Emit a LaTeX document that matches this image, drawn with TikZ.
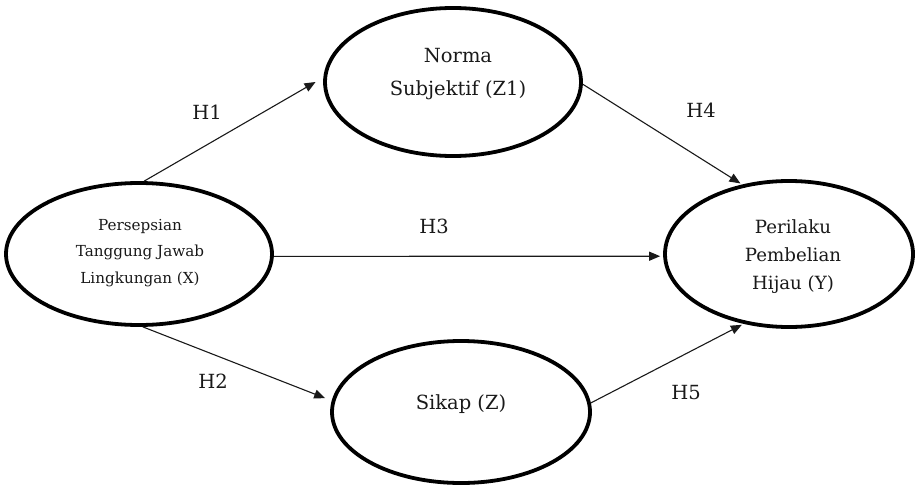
\documentclass[tikz,border=0pt]{standalone}
\usepackage{fontspec}
\setmainfont{DejaVu Serif}
\usetikzlibrary{arrows.meta,shapes.geometric}
\begin{document}
\begin{tikzpicture}[x=1pt,y=-1pt,
  latent/.style={ellipse,draw,line width=3.8pt,inner sep=0pt},
  ltext/.style={align=center,inner sep=0pt,text=black!90},
  path/.style={-{Triangle[length=11pt,width=9pt]},line width=1.1pt,draw=black!90},
  hlabel/.style={font=\fontsize{19.5}{22}\selectfont,text=black!90}]
\useasboundingbox (0,0) rectangle (915,487);
\node[latent,minimum width=266pt,minimum height=142pt] (X) at (139,254) {};
\node[latent,minimum width=256pt,minimum height=148pt] (Z1) at (453,82) {};
\node[latent,minimum width=258pt,minimum height=142pt] (Z) at (461,412) {};
\node[latent,minimum width=248pt,minimum height=146pt] (Y) at (789,254) {};
\node[ltext,font=\fontsize{15.2}{26.5}\selectfont] (Xt) at (140,253) {Persepsian\\Tanggung Jawab\\Lingkungan (X)};
\node[ltext,font=\fontsize{19.5}{33}\selectfont] (Z1t) at (458,74) {Norma\\Subjektif (Z1)};
\node[ltext,font=\fontsize{19.5}{28}\selectfont] (Zt) at (461,404) {Sikap (Z)};
\node[ltext,font=\fontsize{18.2}{28}\selectfont] (Yt) at (793,257) {Perilaku\\Pembelian\\Hijau (Y)};
\draw[path,shorten >=9pt] (X.86) -- (Z1.178);
\draw[path,shorten >=2pt] (Z1.-1) -- (Y.124);
\draw[path,shorten >=3pt] (X.-1) -- (Y.181);
\draw[path,shorten >=7pt] (X.-87) -- (Z.175);
\draw[path,shorten >=2pt] (Z.4) -- (Y.-123);
\node[hlabel] (h1) at (207,112) {H1};
\node[hlabel] (h4) at (701,110) {H4};
\node[hlabel] (h3) at (434,226) {H3};
\node[hlabel] (h2) at (213,381) {H2};
\node[hlabel] (h5) at (686,393) {H5};
\end{tikzpicture}
\end{document}
